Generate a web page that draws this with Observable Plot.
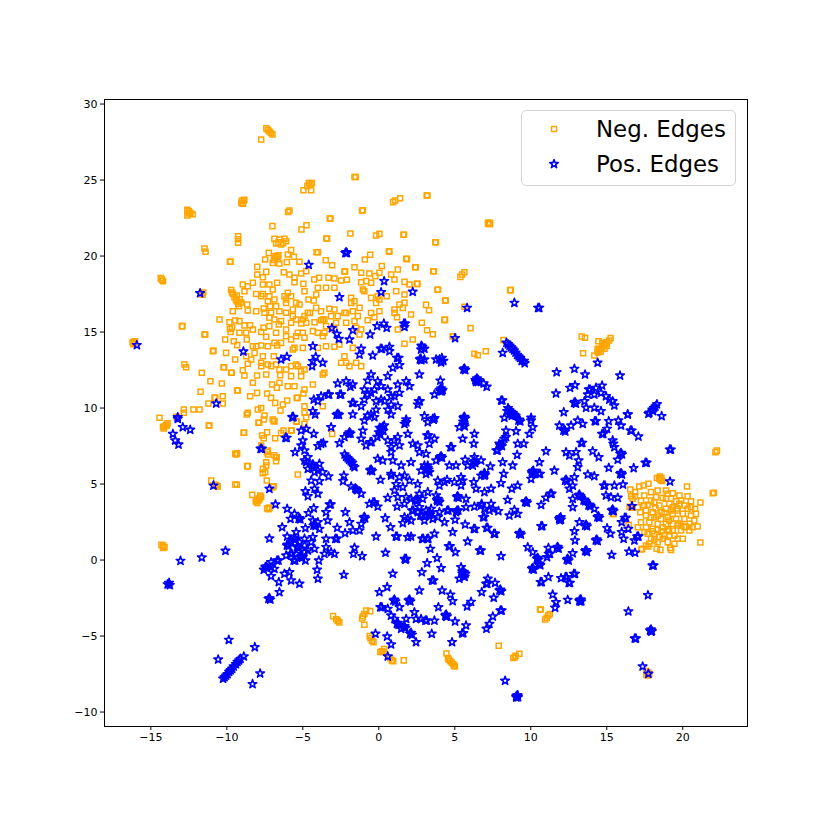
<!DOCTYPE html>
<html><head><meta charset="utf-8">
<script src="https://cdn.jsdelivr.net/npm/d3@7"></script>
<script src="https://cdn.jsdelivr.net/npm/@observablehq/plot@0.6"></script>
<style>
html,body{margin:0;padding:0;background:#fff}
#wrap{position:relative;width:830px;height:830px;overflow:hidden}
#legend{position:absolute;left:521px;top:110px;width:213px;height:74px;border:1.2px solid #d4d4d4;border-radius:5px;background:rgba(255,255,255,.8);font-family:"DejaVu Sans";font-size:22.9px;color:#000}
#legend div{position:absolute;left:74px;white-space:nowrap;line-height:28px}
#legend svg{position:absolute;left:0;top:0}
</style></head><body><div id="wrap"></div>
<script>
const xTicks=[-15,-10,-5,0,5,10,15,20];
const yTicks=[-10,-5,0,5,10,15,20,25,30];
const legendLabels=["Neg. Edges","Pos. Edges"];
const negUpperLeft=[[-7.4,28.4],[-7.3,28.3],[-7.2,28.2],[-7.1,28.1],[-7,28],[-7.74,27.67],[-1.6,25.2],[-1.52,25.2],[-4.7,24.6],[-4.5,24.7],[-4.4,24.8],[-4.6,24.8],[-4.96,24.33],[-4.45,24.33],[-9.05,23.5],[-8.9,23.6],[-8.85,23.7],[-8.95,23.45],[-9,23.65],[-12.6,23.05],[-12.5,22.95],[-12.4,22.85],[-12.25,22.75],[-12.5,22.8],[-12.6,22.67],[1.4,23.8],[1.07,23.66],[.94,23.55],[-1.1,23],[-1.05,23.02],[-5.88,23],[-5.97,22.9],[-3.23,22.47],[-3.18,22.47],[-7,21.97],[-4.76,22.03],[-5.09,21.75],[-3.45,21.16],[-3.4,21.16],[-1.87,21.48],[.04,21.46],[-.18,21.35],[1.62,21.4],[1.66,21.4],[-9.26,21.3],[-9.26,21.1],[-9.26,20.87],[-11.47,20.5],[-11.4,20.28],[-9.8,19.62],[-9.76,19.62],[-14.35,18.55],[-14.28,18.45],[-14.2,18.35],[-6.87,21.13],[-6.54,21.09],[-6.21,21.13],[-6.76,20.83],[-6.43,20.76],[-6.1,20.98],[-6.6,20.9],[-6.3,20.85],[-5.77,20.39],[-7.24,20.21],[-6.8,20],[-6.85,19.85],[-6.7,19.95],[-6.6,20.05],[-6.9,19.75],[-6.65,19.8],[-4.1,20.25],[-4,20.25],[.66,20.3],[.7,20.3],[1.8,19.82],[1.86,19.8],[2.39,19.27],[2.43,19.27],[-.57,20.08],[-.92,19.77],[-3.49,19.73],[-3.07,19.4],[-1.6,19.27],[.2,19.34],[1.25,19.12],[-2.26,18.98],[-2.22,18.98],[-7.48,19.77],[-6.98,19.55],[-6.54,19.51],[-6.05,19.6],[-5.59,19.95],[-5.99,20.1],[-5.22,19.62],[-8,19.29],[-7.41,18.96],[-8,18.79],[-7.63,18.61],[-6.25,18.94],[-5.88,18.79],[-5.11,18.85],[-4.78,19],[-5.55,18.57],[-4.96,18.17],[-5.55,18.28],[-3.93,18.57],[-4.25,18.46],[-3.31,18.57],[-2.92,18.52],[-2.48,18.39],[-2.1,18.44],[-1.16,18.9],[-.62,18.85],[.04,18.9],[-.24,18.68],[.81,18.79],[-1.16,18.28],[-.83,18.35],[-.51,18.24],[1.03,18.46],[1.69,18.3],[2.02,18.13],[2.5,18.17],[2.55,18.17],[-8.95,18.13],[-8.62,18.02],[-8.29,18.24],[-7.63,18.13],[-7.2,18.13],[-6.69,18.24],[-6.98,17.8],[-8.07,17.51],[-7.63,17.51],[-7.2,17.36],[-8.84,17.69],[-5.99,17.58],[-5.77,17.36],[-6.1,17.14],[-4.89,17.69],[-4.01,17.91],[-4.12,17.47],[-3.47,17.91],[-2.92,17.91],[-4.63,17.14],[-4.28,17.08],[-1.82,17.25],[-1.6,17.03],[-.95,17.69],[-.51,17.25],[.04,17.14],[.52,17.36],[1.14,17.69],[1.69,17.47],[-.18,16.92],[-1.05,17.8],[-9.5,17.3],[-9.4,17.1],[-9.3,17],[-9.25,16.85],[-9.6,17.5],[-9.65,17.6],[-9.15,17.15],[-9.05,16.95],[-9.2,16.7],[-9.35,17.4],[-9.72,17.76],[-11.7,17.55],[-11.6,17.45],[-11.55,17.6],[-7.74,17.36],[-7.3,17.03],[-6.87,17.14],[-6.21,17.36],[-6.1,16.92],[-5.44,16.92],[-1.82,16.92],[-.07,17.36],[1.69,16.92]];
const negMiddleLeft=[[-9.61,16.37],[-8.66,16.81],[-8.62,16.42],[-8.07,16.37],[-7.57,16.55],[-7.09,16.27],[-7.2,15.94],[-6.76,16.7],[-6.54,16.37],[-6.87,15.83],[-6.43,15.72],[-5.66,16.48],[-5.66,16.05],[-5.22,16.81],[-4.89,16.05],[-5.11,15.56],[-4.52,16.26],[-4.12,16.59],[-3.8,16.37],[-3.25,16.53],[-2.92,16.48],[-3.14,16.05],[-2.15,16.26],[-1.71,16.37],[-1.27,16.59],[-.51,16.26],[.04,16.37],[1.03,16.48],[1.36,16.81],[1.58,16.59],[1.2,15.98],[2.12,16.16],[2.83,15.61],[-10.48,15.83],[-12.96,15.39],[-12.92,15.39],[-11.47,14.84],[-11.42,14.84],[-9.83,15.65],[-9.45,15.76],[-9.17,15.72],[-9.8,15.2],[-9.75,15],[-9.65,15.3],[-8.84,15.43],[-8.47,15.45],[-8.29,15.17],[-9.17,14.95],[-8.73,14.95],[-7.59,15.28],[-7.2,15.39],[-7.74,15],[-7.41,14.69],[-6.58,15.5],[-6.76,14.95],[-6.1,15.17],[-5.33,14.95],[-4.78,15.61],[-4.23,15.65],[-3.8,15.78],[-3.58,15.83],[-4.34,15.06],[-3.69,14.73],[-2.15,15.61],[-1.6,15.72],[-1.49,15.28],[-1.16,15.17],[-.73,15.78],[-.29,15.98],[1.25,15.17],[2.23,14.51],[-10.11,14.51],[-9.54,14.4],[-9.32,14.14],[-8.69,14.51],[-8.07,14.07],[-7.74,14.12],[-6.69,14.12],[-6.1,14.73],[-5.44,14.73],[-4.89,14.62],[-5.55,13.96],[-5,13.96],[-4.01,13.96],[-3.47,14.07],[-2.92,14.03],[-2.59,14.18],[-1.71,13.96],[-1.27,14.84],[1.69,14.23],[-10.92,13.74],[-10.88,13.78],[-10.05,13.63],[-8.73,13.41],[-8.18,13.63],[-7.63,13.41],[-6.91,13.41],[-5.66,13.85],[-12.79,12.87],[-12.68,12.69],[-10.22,12.69],[-10.18,12.69],[-9.72,12.32],[-9.68,12.32],[-11.65,12.32],[-11.08,11.77],[-10.33,11.62],[-11.73,11.07],[-9.45,13.19],[-8.62,12.91],[-8.95,12.49],[-8.84,12.14],[-8.01,12.14],[-7.74,12.98],[-7.3,12.87],[-6.76,12.87],[-7.41,12.21],[-6.49,12.16],[-6.1,12.54],[-5.44,12.87],[-5.77,12.1],[-5.11,12.43],[-3.58,12.32],[-8.29,11.66],[-9.32,11.16],[-9.28,11.16],[-8.01,11],[-8.47,10.78],[-7.02,11.55],[-6.54,11.66],[-5.99,11.44],[-6.71,11.33],[-5.55,11.44],[-4.34,11.55],[-4.89,11.22],[-7.35,10.96],[-7.09,10.67],[-6.82,10.34],[-6.32,10.23],[-6.03,10.5],[-5.4,10.67],[-5.35,10.67],[-4.96,10.96],[-4.89,10.12],[-10.81,10.67],[-10.76,10.67],[-11.21,10.3],[-10.27,10.78],[-10.27,10.3],[-12.83,9.9],[-12.83,9.69],[-12.2,9.9],[-11.8,9.9],[-14.43,9.36],[-13.3,9.42],[-8.62,9.69],[-7.96,9.9],[-7.74,10],[-6.47,9.84],[-6.98,9.25],[-4.89,9.69],[-3.69,10.12],[-16.2,14.35],[-16.1,14.3],[-16.05,14.4],[-16.15,14.2],[-14.2,8.75],[-14.1,8.8],[-14,8.9],[-13.9,9],[-13.95,8.85],[-14.15,8.65],[-11.19,8.85],[-11.15,8.85],[-8.9,8.37],[-8.86,8.37],[-8.69,9.58],[-7.92,9.03],[-7.88,9.03],[-7.52,9.51],[-7.57,9.25],[-6.91,9.14],[-6.87,9.14],[-5.44,9.12],[-5.4,9.12],[-4.78,9.4],[-4.89,8.96],[-6.27,8.52],[-5.77,8.52],[-5.73,8.52],[-6.43,8.35],[-7.35,8.41],[-7.68,8.2],[-7.57,8.02],[-6.82,8.02],[-3.07,8.3],[-7.52,16.27],[-7.15,16.7],[-6.1,16.27],[-5.77,15.61],[-5.44,15.83],[-5,15.83],[-4.67,16.27],[-3.69,15.83],[-3.47,15.39],[-3.58,14.95],[-2.81,15.61],[-2.7,16.05],[-2.92,15.17],[-4.01,14.95],[-5,14.95],[-5.77,14.51],[-6.43,14.29],[-6.87,14.29],[-7.3,14.07],[-8.29,14.07],[-8.4,13.19],[-7.74,12.76],[-7.09,12.76],[-6.54,12.54],[-5.77,12.76],[-5.33,12.76],[-4.89,12.54],[-5.11,12.1],[-3.69,12.21],[-2.26,13.41],[-2.48,12.98],[-1.93,12.76],[-1.49,12.98],[-1.16,12.76],[-2.15,12.98],[-1.38,16.05],[-2.26,16.27],[1.03,16.26]];
const negLowerLeft=[[-9.45,7],[-9.39,6.95],[-9.32,7.02],[-8.66,6.18],[-8.62,6.18],[-7.74,7.54],[-7.3,7.2],[-7.35,7.1],[-7.3,6.95],[-6.76,6.77],[-6.72,6.77],[-6.87,6.9],[-6.76,6.5],[-7.41,6.44],[-7.41,6.22],[-7.63,6],[-7.63,5.72],[-7.48,5.78],[-5.33,5.63],[-7.37,5.23],[-11.03,5.23],[-10.75,4.95],[-10.7,4.9],[-10.65,4.85],[-10.6,4.84],[-9.45,4.97],[-9.34,4.95],[-6.98,4.8],[-6.92,4.85],[-8.33,4.29],[-8.1,3.85],[-8,3.95],[-7.9,4.05],[-7.8,4.25],[-7.95,3.9],[-8,3.75],[-7.85,4],[-7.75,4.15],[-7.35,3.4],[-7.25,3.35],[-7.2,3.45],[-14.3,1],[-14.2,.95],[-14.1,.85],[-14.2,.8],[-3.01,-3.69],[-2.8,-3.9],[-2.7,-4],[-2.6,-4.1],[-1.1,-3.85],[-1.05,-3.7],[-.95,-3.55],[-.83,-3.32],[-.57,-3.36],[-.95,-4.26],[-.6,-5],[-.55,-5.15],[-.45,-5.3],[-.35,-5.4],[.1,-6.05],[.2,-6],[.35,-5.85],[.3,-6.05],[.75,-6.45],[.85,-6.6],[.95,-6.65],[1.64,-6.6]];
const negUpperRight=[[3.15,23.98],[3.2,23.98],[7.18,22.12],[7.25,22.15],[7.32,22.18],[7.3,22.1],[7.2,22.2],[3.72,20.91],[3.76,20.91],[3.59,19],[3.63,19],[5.63,18.94],[5.48,18.79],[5.37,18.63],[3.86,17.78],[3.9,17.78],[8.64,17.76],[8.68,17.76],[4.36,17.08],[4.4,17.08],[3.11,16.79],[3.31,16.44],[5.63,16.66],[4.32,15.8],[4.36,15.8],[6.03,15.26],[3.18,15.12],[3.55,14.86],[4.86,14.73],[4.9,14.73],[6.29,13.57],[6.51,13.48],[7.04,13.74],[8.2,14.47],[13.35,14.71],[13.57,14.62],[14.45,14.4],[13.44,13.61],[14.18,13.46],[14.4,13.65],[14.5,13.8],[14.6,13.9],[14.7,14],[14.8,14.1],[14.9,14.2],[15,14.35],[15.15,14.45],[15.25,14.6],[14.6,13.7],[14.85,13.9],[15,14.1],[14.4,13.9],[14.7,14.3]];
const negLowerRight=[[22.15,7.1],[22.25,7.2],[21.97,4.4],[22.05,4.43],[21.16,1.16],[20.28,4.84],[21.16,3.79],[18.5,5.5],[18.6,5.4],[18.55,5.25],[18.65,5.2],[18.45,5.35],[18.3,5.4],[17.74,5.02],[17.43,4.9],[17.14,4.84],[16.55,4.64],[16.86,4.47],[16.6,4.2],[16.86,4.2],[16.7,4.03],[15.39,3.04],[15.45,3.04],[16.44,2.32],[16.5,3.5],[16.6,3.48],[16.7,3.45],[17.32,.74],[17.28,.7],[18.35,4.58],[17.91,4.47],[18.9,4.58],[19.34,4.4],[19.78,4.25],[20.32,4.2],[17.47,4.25],[18.24,4.14],[18.68,4.09],[19.23,4.03],[20.54,3.87],[20.11,3.59],[19.56,3.87],[19.12,3.7],[18.13,3.81],[17.69,3.63],[17.47,3.59],[18.46,3.59],[18.9,3.37],[19.34,3.48],[19.67,3.26],[20.32,3.37],[20.81,3.37],[20.87,3.04],[20.54,2.93],[20,3.04],[19.34,3.04],[18.61,3.15],[18.02,3.15],[17.58,3.26],[17.21,3.15],[17.58,2.93],[18.13,2.82],[18.57,2.71],[19.01,2.82],[19.56,2.71],[20.11,2.71],[20.76,2.6],[20.43,2.38],[19.89,2.27],[19.34,2.38],[18.9,2.38],[18.35,2.38],[17.8,2.49],[17.25,2.49],[17.04,2.16],[17.58,2.16],[18.02,2.06],[18.68,2.16],[19.34,1.95],[19.89,1.95],[20.43,1.95],[20.98,2.21],[17.47,1.84],[18.13,1.73],[18.79,1.62],[19.45,1.62],[20,1.4],[17.91,1.4],[18.46,1.51],[18.35,1.18],[19.01,1.18],[19.45,1.07],[17.8,1.07],[17.58,.96],[18.28,.74],[18.53,.67],[19.18,.8],[19.23,.67],[17.74,.89],[18.8,3.1],[19.1,2.6],[19.7,2.4],[18.2,3.4],[17.9,2.8],[19.6,3.4],[20.2,2.2],[18.6,1.9],[19.1,1.9],[18,1.9],[17.04,3.48],[17.25,3.92],[19.01,4.36],[19.78,3.7],[20.54,3.48],[19.23,3.26],[18.35,2.93],[19.67,2.27],[20.11,2.16],[20.65,2.16],[18.35,2],[19.01,2],[17.69,1.73],[19.12,1.62],[19.67,1.4],[18.13,1.29],[18.68,1.4],[19.89,3.92],[17.91,3.92],[18.9,4.03],[10.61,-3.25],[10.65,-3.25],[11.05,-3.8],[11.15,-3.65],[11.25,-3.55],[10.94,-3.91],[7.89,-5.64],[8.85,-6.45],[8.95,-6.4],[9,-6.3],[9.25,-6.17],[4.45,-6.15],[4.55,-6.45],[4.6,-6.55],[4.7,-6.65],[4.8,-6.75],[4.9,-6.85],[5,-7],[4.95,-6.95],[17.6,-7.3],[17.75,-7.4],[17.7,-7.6],[17.6,-7.55],[17.8,-7.5]];
const posUpperLeft=[[-15.92,14.14],[-11.76,17.56],[-4.61,19.42],[-2.2,20.2],[-2.15,20.25],[-2.1,20.2],[.35,18.35],[.15,17.62],[2.23,17.65],[-2.59,17.3],[-3.09,15.26],[-2.76,14.88],[-2.63,14.55],[-1.71,15.12],[-1.93,14.51],[-.57,14.84],[-.11,15.39],[.33,15.56],[.52,15.28],[1.65,15.56],[1.73,15.56],[1.69,15.34],[-8.91,13.72],[-4.34,14.07],[-6.43,13.2],[-6.05,13.37],[-4.15,13.37],[-4.34,13.09],[-3.69,12.98],[-4.39,12.76],[-1.16,13.9],[-1.27,13.52],[-.4,13.46],[.12,13.9],[.2,13.9],[.7,14.03],[.7,13.74],[2.8,14.1],[2.86,14.02],[2.78,13.85],[2.7,13.2],[2.76,13.25],[2.8,13.15],[1.2,13.3],[1.3,13.3],[1.36,12.82],[.92,12.65],[2.67,12.21],[-10.7,10.3],[-13.23,9.4],[-5.66,9.42],[-4.34,9.8],[-4.19,9.58],[-2.7,11.62],[-2.15,11.77],[-1.71,11.55],[-1.87,11.4],[-3.35,10.89],[-3.27,10.89],[-3.8,10.78],[-4.28,10.56],[-4.01,10.45],[-2.56,10.89],[-2.48,10.89],[-1.75,10.34],[-1.67,10.34],[-2.78,9.55],[-2.7,9.62],[-2.62,9.55],[-1.71,9.58],[-1.16,10.12],[-.51,12.21],[-.73,11.81],[-.07,11.77],[.15,11.44],[.59,12.1],[-.95,11.22],[-.73,10.89],[-.29,11.22],[.59,11.22],[1.25,11.55],[1.8,11.77],[2.02,11.44],[1.36,11],[1.03,10.78],[-.18,10.45],[-.95,10.56],[.81,10.23],[.59,9.9],[-.18,9.9],[-.51,9.58],[.81,9.58],[1.8,9.25],[2.62,10.45],[2.7,10.45],[2.56,10.23],[3,9.47]];
const posLowerLeft=[[-13.23,9.29],[-12.9,8.74],[-12.41,8.57],[-13.55,8.3],[-13.4,7.87],[-13.18,7.6],[-7.78,7.32],[-7.7,7.32],[-6.14,8.04],[-6.06,8.04],[-5.7,9.4],[-5.62,9.4],[-7.2,4.69],[-10.88,4.9],[-6.8,3.66],[-5.11,8.52],[-4.78,8.63],[-4.28,8.3],[-5,7.87],[-5.11,7.54],[-4,7.5],[-3.8,7.65],[-3.65,7.7],[-5.51,7.1],[-4.89,7.21],[-3.14,8.74],[-4.67,6.77],[-4.78,6.44],[-4.4,6.22],[-4.34,6.3],[-4.28,6.18],[-3.91,6.33],[-4.23,5.78],[-3.69,5.78],[-3.31,5.5],[-4.45,5.23],[-3.91,5.19],[-4.23,4.69],[-4.83,4.53],[-4.01,4.36],[-4.67,4.2],[-2.59,7.69],[-2.26,8.09],[-2,8.3],[-1.93,8.4],[-1.86,8.32],[-2.25,6.95],[-2.15,6.8],[-2.05,6.7],[-1.95,6.6],[-1.85,6.5],[-1.75,6.4],[-1.7,6.2],[-1.6,6.11],[-2.3,5.56],[-2.35,5.19],[-1.82,4.84],[-1.55,4.72],[-1.49,4.66],[-1.42,4.6],[-1.16,4.36],[-.58,5.9],[-.51,5.95],[-.44,5.85],[.11,5.28],[-.62,3.7],[-.07,3.52],[-.38,3.8],[-.28,3.8],[.59,4.09],[1.2,3.52],[.42,2.76],[.77,2.16],[1.58,2.43],[1.69,2.82],[-.18,1.55],[1.12,1.55],[1.2,1.55],[1.91,1.51],[2.12,1.55],[2.85,1.4],[2.93,1.4],[.44,.48],[1.7,.08],[1.75,.02],[1.8,.08],[.92,-.9],[2.83,-.8],[-6.03,3.37],[-5.55,3.04],[-5.81,2.71],[-5.28,2.71],[-5.22,2.75],[-5.16,2.68],[-4.63,3.09],[-4.28,3.41],[-3.47,3.15],[-3.24,3.66],[-3.16,3.66],[-3.36,2.6],[-2.2,3.15],[-1.93,2.49],[-1,2.78],[-.95,2.84],[-.9,2.74],[-1.16,2.38],[-6.36,2.16],[-4.83,2.1],[-4.3,2.27],[-4.23,2.33],[-4.16,2.24],[-3.91,2.05],[-2.74,2.12],[-7.2,1.42],[-6.03,1.55],[-5.44,1.84],[-5.62,1.4],[-5.55,1.46],[-5.48,1.36],[-4.89,1.4],[-4.34,1.51],[-3.47,1.4],[-2.86,1.4],[-2.76,1.4],[-2.22,1.77],[-1.71,1.95],[-1.27,1.95],[-6.05,.96],[-5.99,1.02],[-5.93,.92],[-5.39,.85],[-5.33,.9],[-5.27,.8],[-4.89,.96],[-4.23,.74],[-3.47,.85],[-3.14,.52],[-3.58,.41],[-2.92,.41],[-1.6,.81],[-1.67,.41],[-1.1,.26],[-5.81,.41],[-5.73,.41],[-5.17,.19],[-5.11,.25],[-5.05,.15],[-5.6,-.03],[-5.5,-.03],[-4.83,-.03],[-6.1,.3],[-3.95,-.03],[-4.06,-.64],[-4.01,-1.23],[-6.7,-.03],[-6.6,-.03],[-7.09,-.14],[-7.47,-.47],[-7.41,-.42],[-7.35,-.52],[-7.57,-.64],[-6.87,-.58],[-6.21,-.9],[-5.88,-.8],[-7.09,-1.06],[-5.77,-1.34],[-6.58,-1.45],[-5.22,-1.56],[-6.54,-2.11],[-7.26,-2.55],[-7.2,-2.5],[-7.14,-2.6],[-13.05,-.05],[-11.65,.17],[-10.09,.61],[-2.3,-.97],[-13.9,-1.6],[-13.8,-1.5],[-13.75,-1.65],[-10.25,-7.8],[-10.15,-7.7],[-10.05,-7.6],[-9.95,-7.5],[-9.85,-7.35],[-9.75,-7.25],[-9.65,-7.15],[-9.55,-7],[-9.4,-6.85],[-9.3,-6.7],[-9.2,-6.6],[-9.1,-6.5],[-8.88,-6.34],[-9.87,-5.25],[-10.57,-6.54],[-8.16,-5.73],[-7.81,-7.46],[-8.31,-8.16],[.04,-2.11],[.55,-1.78],[2.67,-2],[.1,-3.1],[.2,-3.1],[.59,-3.21],[.97,-2.66],[1.03,-2.6],[1.09,-2.72],[1.36,-3.1],[1.96,-2.66],[2.02,-2.6],[2.08,-2.72],[2.34,-3.43],[2.78,-3.87],[.81,-3.65],[1.19,-4.2],[1.25,-4.14],[1.31,-4.26],[1.63,-4.41],[1.69,-4.35],[1.75,-4.47],[2.06,-4.85],[2.12,-4.79],[2.18,-4.91],[2.45,-5.4],[1.8,-3.87],[-.22,-4.85],[.55,-5.03],[.81,-5.55],[.59,-6.34],[1.47,-4.52],[1.03,-3.87],[2.45,-3.87],[-4.89,6.55],[-4.67,6],[-4.01,5.89],[-4.89,.52],[-4.45,1.18],[-5.22,1.18],[-5.77,1.18],[-4.67,.63],[-5.44,.41],[-7.09,-.47],[-4.01,2.49],[-4.34,2.6]];
const posCenter=[[-.73,9.51],[-.29,9.4],[-1.05,8.52],[-.55,7.76],[-.47,7.76],[-.84,7.54],[-.07,6.66],[.26,6.55],[.92,6.55],[1.47,6.22],[.05,8.7],[.15,8.6],[.25,8.75],[.3,8.5],[0,8.4],[.1,8.25],[.35,8.85],[-.1,8.1],[.81,7.43],[1.03,7.87],[1.36,7.54],[.81,7.1],[1.8,9.07],[1.91,8.3],[2.57,7.54],[2.67,7.1],[2.12,6.44],[.81,5.56],[1.36,5.45],[1.69,5.56],[1.14,5],[1.58,4.8],[2.02,5.23],[1.8,4.14],[2.12,4.03],[2.39,3.92],[2.45,3.98],[2.51,3.88],[2.67,3.48],[2.19,3.26],[2.27,3.26],[2.74,2.93],[2.82,2.93],[2.12,2.6],[3,2.6],[2.78,5.89],[3,6.22],[2.56,5],[3.55,9.3],[3.61,9.24],[3.67,9.34],[3.22,9.07],[5.55,9.1],[5.6,8.9],[5.65,8.8],[5.6,9.3],[5.3,8.74],[6.29,8.3],[6.25,7.65],[5.52,7.98],[3.18,8.2],[3.26,8.2],[3.66,7.98],[3.33,7.65],[4.71,7.43],[4.79,7.43],[3.11,6.99],[4.04,6.77],[4.1,6.83],[4.16,6.73],[3.77,6.55],[3.16,6],[3.22,6.06],[3.28,5.95],[3.11,5.67],[4.64,6.22],[5.08,6.22],[5.68,6.6],[6.23,6.44],[6.29,6.5],[6.35,6.38],[6.73,6.55],[5.85,6.22],[3.88,5.23],[4.49,5.28],[3.99,4.9],[4.97,5.13],[5.41,5.45],[5.52,5.23],[6.25,5.13],[6.4,4.69],[5.13,4.14],[5.19,4.2],[5.25,4.1],[3.82,3.96],[3.88,4.02],[3.94,3.92],[3.85,3.88],[3.22,4.47],[6.29,3.52],[5.74,4.03],[6.77,3.7],[7.39,3.7],[6.95,3.37],[7.28,3.26],[7.87,3.22],[6.86,2.82],[6.94,2.82],[8.59,2.93],[8.92,3.3],[9.14,3.04],[3.27,3.04],[3.33,3.1],[3.39,3],[3.3,2.95],[3.38,3.12],[3.11,3.26],[3.99,3.15],[4.5,3.26],[4.58,3.26],[5.15,3.26],[5.23,3.26],[5.74,3.48],[5.02,2.65],[4.32,2.49],[3.88,2.82],[3.55,2.71],[1.69,8.96],[1.25,8.09],[2.24,7.65],[.59,7.87],[-.95,9.18],[-1.16,7.98],[.81,5.67],[1.03,4.58],[1.25,4.14],[1.69,3.7],[2.67,4.36],[2.89,4.03],[2.56,3.15],[1.91,2.71],[3.44,3.37],[5.08,3.15],[3.77,4.25],[3.99,3.81],[5.41,4.9],[4.32,5.13],[3.22,6.22],[3.33,5.78],[6.73,3.59],[7.5,3.37],[6.29,6.77],[6.18,6.22],[7.93,7.65],[8.26,7.98],[.15,10.56],[-.51,11],[1.25,10.12],[.81,10.78],[.37,10.45]];
const posRight=[[8.75,9.62],[8.81,9.68],[8.87,9.56],[8.81,9.56],[9.19,9.18],[9.25,9.24],[9.31,9.12],[10.02,9.18],[10.13,8.74],[9.91,8.3],[8.37,8.52],[9.03,8.48],[8.37,8.09],[7.98,7.54],[8.04,7.6],[8.1,7.5],[7.74,7.21],[7.82,7.21],[9.14,7.65],[9.54,7.65],[9.1,6.92],[8.15,6.44],[8.81,6.22],[8.22,5.67],[8.04,5.06],[7.34,6.16],[6.9,5.65],[6.95,5.72],[7,5.62],[6.95,5.55],[6.73,5.56],[7.39,4.69],[6.95,4.47],[8.75,4.69],[9.14,4.9],[8.48,3.96],[9.63,3.81],[9.69,3.87],[9.75,3.77],[11,7.16],[10.57,6.44],[10.07,5.78],[10.13,5.84],[10.19,5.72],[10.1,5.68],[10.17,5.88],[10.53,5.67],[10.61,5.67],[10.02,5.34],[11.55,5.89],[11.88,8.85],[12.15,8.52],[12.21,8.58],[12.27,8.46],[12.65,8.85],[13.09,9.18],[13.42,8.96],[14.21,9.14],[14.29,9.14],[15.13,9.14],[15.76,9.18],[15.94,8.85],[16.56,8.52],[16.64,8.52],[17.08,8.13],[14.69,8.3],[14.77,8.3],[15.02,8.63],[16.38,9.58],[17.74,9.62],[18.61,9.47],[13.31,7.71],[13.39,7.71],[15.39,7.87],[15.43,7.65],[15.5,7.43],[19.14,7.27],[19.22,7.27],[12.32,7.1],[12.54,6.88],[12.98,7.1],[14.07,7.16],[14.47,6.77],[13.15,6.55],[13.09,6.11],[15.88,6.99],[15.94,7.05],[16,6.95],[15.72,6.6],[17.54,6.4],[17.62,6.4],[15.13,6.07],[16.77,6.05],[13.75,5.63],[14.18,5.52],[15.88,5.67],[15.94,5.73],[16,5.63],[12.87,5.45],[12.26,5.23],[12.32,5.29],[12.38,5.19],[12.54,4.69],[12.76,4.9],[14.8,4.9],[14.88,4.9],[15.5,4.9],[16.07,4.97],[14.95,4.25],[15.28,4.14],[15.72,4.1],[13.14,4.25],[13.2,4.31],[13.26,4.2],[13.47,3.92],[13.53,3.98],[13.59,3.87],[13.8,3.59],[13.86,3.65],[13.92,3.54],[14.18,3.37],[12.76,4.03],[12.76,3.48],[14.39,2.82],[14.45,2.88],[14.51,2.78],[15.33,3.26],[15.39,3.32],[15.45,3.22],[16.66,3.55],[19.16,5.17],[16.18,2.78],[16.26,2.78],[15.98,2.49],[16.42,2.05],[15.98,1.84],[15.02,2.1],[15.24,1.73],[16.11,1.4],[16.82,1.29],[17,1.55],[17.08,1.55],[14.28,1.29],[14.34,1.35],[14.4,1.25],[16.46,.56],[16.86,.48],[15.32,.34],[13.58,2.27],[13.64,2.33],[13.7,2.22],[13.2,2.49],[12.87,1.9],[12.91,1.29],[13.58,.59],[13.64,.65],[13.7,.54],[12.76,.45],[12.37,.02],[12.43,.08],[12.49,-.03],[11.87,2.71],[11.93,2.77],[11.99,2.66],[11.9,2.62],[11.97,2.82],[10.68,2.23],[10.76,2.23],[9.23,1.73],[9.29,1.79],[9.35,1.68],[8.04,.26],[6.64,.63],[6.72,.63],[11.29,4.36],[11.37,4.36],[11,4.1],[10.68,3.63],[9.8,.85],[10.13,.52],[10.4,.08],[10.46,.14],[10.52,.03],[10.51,-.29],[10.57,-.23],[10.63,-.34],[10.07,-.58],[10.13,-.52],[10.19,-.63],[11.16,.8],[11.71,.8],[11.77,.86],[11.83,.75],[11.18,.41],[11.26,.41],[11.07,.19],[12.83,-.91],[12.91,-.91],[11.16,-1.12],[10.64,-1.45],[10.72,-1.45],[11.99,-1.19],[12.28,-1.12],[12.36,-1.12],[12.5,-1.5],[12.58,-1.5],[11.44,-2.27],[11.66,-2.77],[11.6,-3.14],[12.43,-2.62],[13.2,-2.66],[13.26,-2.6],[13.32,-2.72],[13.22,-2.72],[13.3,-2.6],[18,-.36],[18.08,-.36],[17.71,-2.31],[16.42,-3.38],[17.85,-4.63],[17.91,-4.57],[17.97,-4.68],[17.91,-4.7],[16.84,-5.16],[16.92,-5.16],[17.36,-7],[17.74,-7.48],[8.31,-7.94],[9.04,-8.97],[9.1,-8.91],[9.16,-9.02],[9.05,-9.04],[9.14,-8.9],[5.5,-.9],[5.6,-.8],[5.7,-.9],[5.55,-1.05],[5.65,-1.1],[5.5,-.75],[5.41,-.47],[5.3,-1.23],[3.5,-1.34],[3.6,-1.34],[4.1,-.53],[3.83,.13],[3.39,.74],[3.18,-.2],[4.6,.91],[4.68,.91],[5.04,.52],[5.85,1.22],[4.86,1.84],[3.66,1.73],[3.18,1.4],[3.26,1.4],[5.68,2.34],[6.25,2.05],[6.33,2.05],[7.08,2.12],[7.16,2.12],[7.57,1.73],[7.65,1.73],[4.16,-2],[4.71,-2.27],[4.86,-2.7],[3.92,-3.1],[4.37,-3.65],[4.43,-3.59],[4.49,-3.7],[4.43,-3.72],[5.02,-4.04],[3.66,-3.98],[3.07,-3.98],[3.15,-3.98],[3.48,-4.85],[5.48,-4.81],[5.56,-4.81],[5.74,-4.3],[4.82,-5.4],[5.81,-3.05],[6.07,-2.75],[6.77,-2.11],[7.06,-1.56],[7.14,-1.56],[7.17,-1.23],[7.65,-1.5],[7.94,-2],[8,-1.94],[8.06,-2.05],[7.56,-2.48],[8,-3.32],[8.08,-3.32],[7.5,-3.71],[7.28,-4.2],[7.08,-4.52]];
const posTopRight=[[5.81,16.59],[8.92,16.92],[10.48,16.59],[10.56,16.59],[5.02,14.6],[8.15,13.63],[8.4,14.3],[8.5,14.2],[8.6,14.1],[8.7,14],[8.8,13.9],[8.9,13.8],[9,13.65],[9.1,13.5],[9.2,13.4],[9.3,13.3],[9.4,13.1],[9.55,13.1],[9.6,12.95],[4,13.2],[4.15,13.3],[4.25,13.1],[4.1,13],[3.77,13.2],[5.57,12.54],[5.63,12.6],[5.69,12.5],[6.35,11.84],[6.46,11.95],[6.55,11.84],[6.4,11.72],[6.52,11.72],[6.46,11.84],[7.1,11.4],[6.9,11.62],[4.05,11.81],[4,11.2],[4.1,11.3],[4.2,11.2],[4.05,11.1],[4.15,11.1],[3.66,10.89],[8.05,10.5],[8.13,10.5],[11.7,12.36],[12.87,12.58],[13.57,12.21],[14.4,12.98],[15.87,12.14],[11.66,10.96],[12.58,11.33],[12.91,11.5],[12.17,9.73],[13.82,11.22],[13.9,11.22],[14.29,11.33],[14.69,11.48],[13.75,10.89],[14.18,10.89],[14.62,11],[14.95,10.78],[15.17,10.56],[15.39,10.45],[13.53,10.45],[12.85,10.34],[12.91,10.4],[12.97,10.29],[13.64,10.02],[14.18,10.02],[14.62,9.8],[15.5,10.17],[16.38,9.58],[17.8,9.69],[18,9.9],[18.1,10],[18.2,10.1],[18.3,10.25],[18.05,9.8],[8.5,10],[8.6,9.85],[8.7,9.75],[8.8,9.65],[8.9,9.55],[9,9.5],[8.6,9.6],[8.75,9.5],[8.45,9.8],[5.57,9.36],[5.63,9.42],[5.69,9.32],[10.02,9.36],[8.26,9.36],[3,13.9],[3,13.2]];

const negEdges=[...negUpperLeft,...negMiddleLeft,...negLowerLeft,...negUpperRight,...negLowerRight];
const posEdges=[...posUpperLeft,...posLowerLeft,...posCenter,...posRight,...posTopRight];

const negStyle={symbol:"square",stroke:"orange",fill:"none",strokeWidth:1.5,r:2.85};
const posStyle={symbol:"star",stroke:"blue",fill:"none",strokeWidth:1.55,r:2.7,strokeLinejoin:"round"};

const chart=Plot.plot({
  width:830,height:830,
  marginLeft:104,marginRight:83,marginTop:99,marginBottom:104,
  style:{fontFamily:"DejaVu Sans",fontSize:"11px",background:"#fff",color:"#000"},
  x:{domain:[-18.05,24.26],ticks:xTicks,tickSize:4,tickPadding:3,label:null,line:false},
  y:{domain:[-10.95,30.3],ticks:yTicks,tickSize:4,tickPadding:3,label:null,line:false},
  marks:[
    Plot.dot(negEdges,{x:d=>d[0],y:d=>d[1],...negStyle}),
    Plot.dot(posEdges,{x:d=>d[0],y:d=>d[1],...posStyle}),
    Plot.frame({stroke:"#000",strokeWidth:1})
  ]
});
const wrap=document.getElementById("wrap");
wrap.appendChild(chart);

// legend drawn over the axes, with the same symbols as the marks
const legend=document.createElement("div");
legend.id="legend";
const svgNS="http://www.w3.org/2000/svg";
const lsvg=document.createElementNS(svgNS,"svg");
lsvg.setAttribute("width",70);lsvg.setAttribute("height",74);
[[d3.symbolSquare,negStyle,18],[d3.symbolStar,posStyle,53]].forEach(([t,s,cy])=>{
  const p=document.createElementNS(svgNS,"path");
  p.setAttribute("d",d3.symbol(t,Math.PI*s.r*s.r)());
  p.setAttribute("transform",`translate(32,${cy})`);
  p.setAttribute("fill","none");p.setAttribute("stroke",s.stroke);p.setAttribute("stroke-width",s.strokeWidth);
  p.setAttribute("stroke-linejoin","round");
  lsvg.appendChild(p);
});
legend.appendChild(lsvg);
legendLabels.forEach((t,i)=>{
  const d=document.createElement("div");
  d.textContent=t;d.style.top=(i?39:4)+"px";
  legend.appendChild(d);
});
wrap.appendChild(legend);
</script></body></html>
